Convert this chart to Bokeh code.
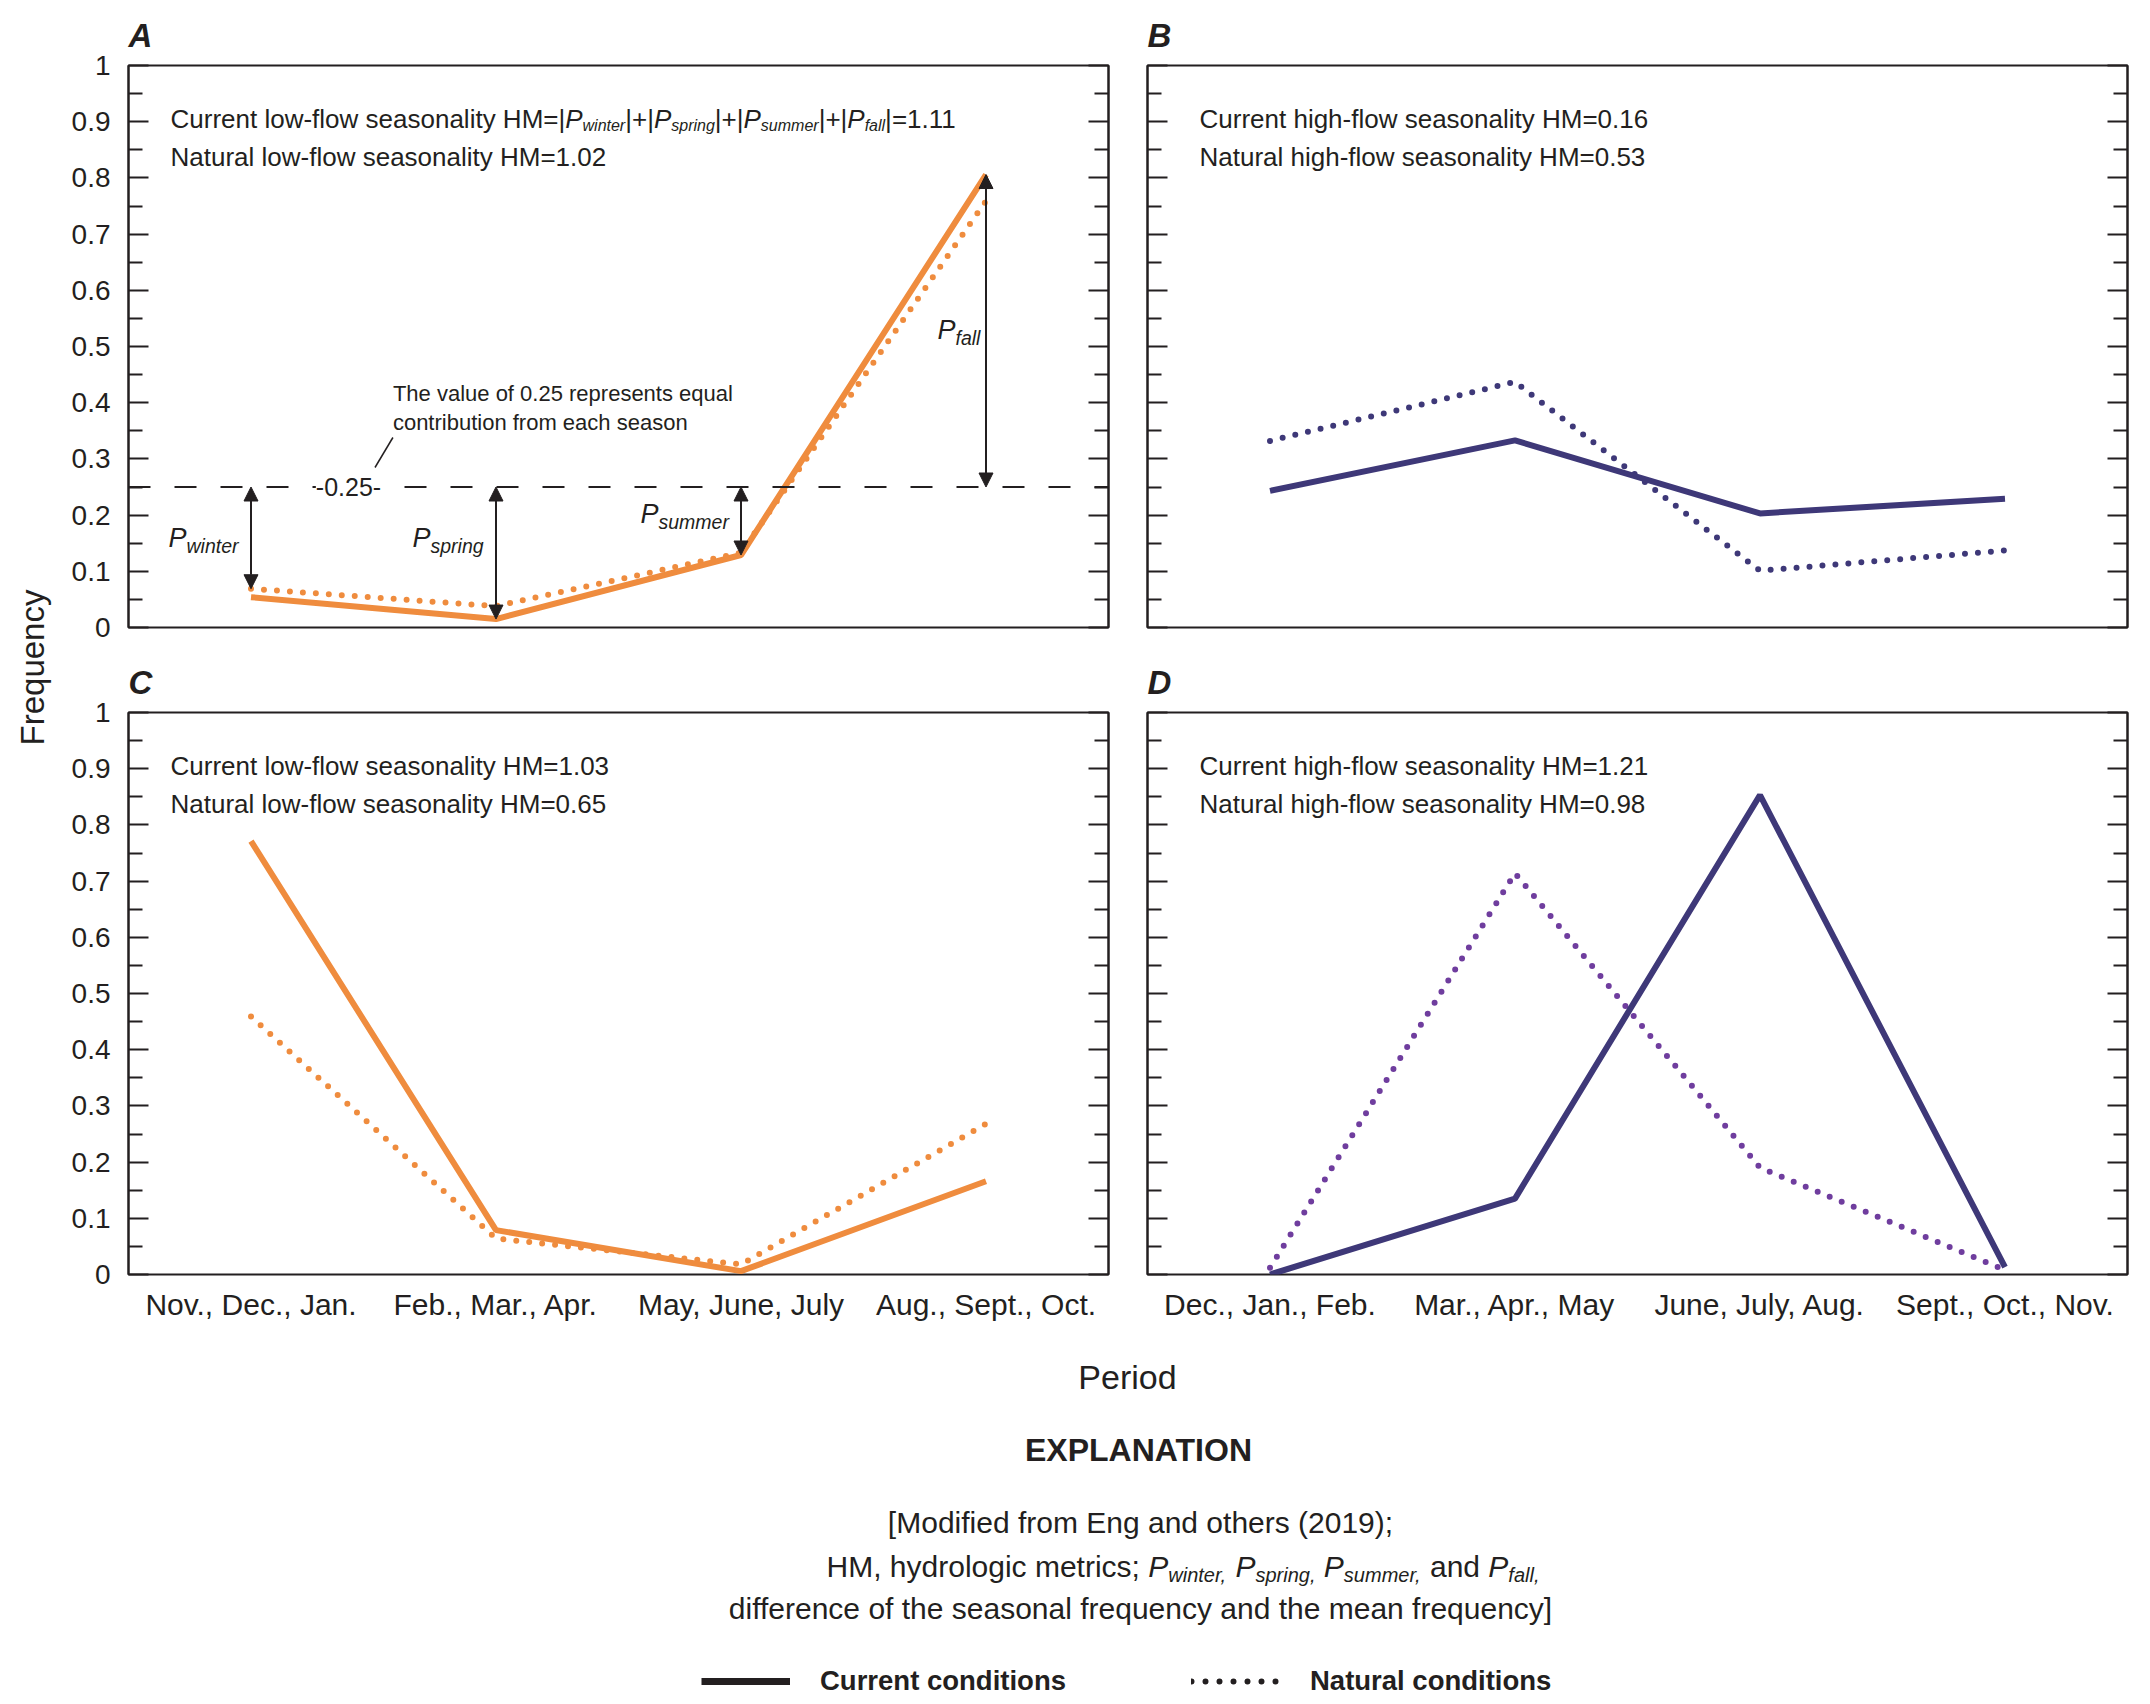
import math
from bokeh.plotting import figure
from bokeh.models import (Range1d, FactorRange, LinearAxis, CategoricalAxis, FixedTicker,
                          Label, Span, Arrow, NormalHead, ColumnDataSource, Legend, LegendItem, Title)
from bokeh.layouts import row, column
from bokeh.embed import file_html
from bokeh.resources import INLINE

# ---------------- data ----------------
low_flow_periods = ["Nov., Dec., Jan.", "Feb., Mar., Apr.", "May, June, July", "Aug., Sept., Oct."]
high_flow_periods = ["Dec., Jan., Feb.", "Mar., Apr., May", "June, July, Aug.", "Sept., Oct., Nov."]

a_current = [0.054, 0.015, 0.129, 0.806]
a_natural = [0.069, 0.038, 0.133, 0.759]
b_current = [0.243, 0.333, 0.203, 0.229]
b_natural = [0.332, 0.437, 0.101, 0.137]
c_current = [0.771, 0.079, 0.006, 0.166]
c_natural = [0.459, 0.064, 0.018, 0.268]
d_current = [0.000, 0.135, 0.853, 0.013]
d_natural = [0.012, 0.714, 0.190, 0.008]

hm_current = {"A": 1.11, "B": 0.16, "C": 1.03, "D": 1.21}
hm_natural = {"A": 1.02, "B": 0.53, "C": 0.65, "D": 0.98}
flow_kind = {"A": "low", "B": "high", "C": "low", "D": "high"}

equal_share = 0.25
y_ticks = [0, 0.1, 0.2, 0.3, 0.4, 0.5, 0.6, 0.7, 0.8, 0.9, 1]
y_tick_labels = ["0", "0.1", "0.2", "0.3", "0.4", "0.5", "0.6", "0.7", "0.8", "0.9", "1"]
y_minor_ticks = [0.05, 0.15, 0.25, 0.35, 0.45, 0.55, 0.65, 0.75, 0.85, 0.95]
seasons = ["winter", "spring", "summer", "fall"]
legend_labels = ["Current conditions", "Natural conditions"]

# ---------------- style ----------------
INK = "#231f20"
ORANGE = "#ef8c3e"
NAVY = "#3e3878"
PURPLE = "#6f3d9e"
FONT = "Liberation Sans"
FW, FH = 980, 562
MID = 0.3465  # em-box centre above the baseline

_W = {' ': 278, '!': 278, '(': 333, ')': 333, '+': 584, ',': 278, '-': 333, '.': 278, '/': 278,
      ':': 278, ';': 278, '=': 584, '[': 278, ']': 278, '|': 260,
      'A': 667, 'B': 667, 'C': 722, 'D': 722, 'E': 667, 'F': 611, 'G': 778, 'H': 722, 'I': 278,
      'J': 500, 'K': 667, 'L': 556, 'M': 833, 'N': 722, 'O': 778, 'P': 667, 'Q': 778, 'R': 722,
      'S': 667, 'T': 611, 'U': 722, 'V': 667, 'W': 944, 'X': 667, 'Y': 667, 'Z': 611,
      'a': 556, 'b': 556, 'c': 500, 'd': 556, 'e': 556, 'f': 278, 'g': 556, 'h': 556, 'i': 222,
      'j': 222, 'k': 500, 'l': 222, 'm': 833, 'n': 556, 'o': 556, 'p': 556, 'q': 556, 'r': 333,
      's': 500, 't': 278, 'u': 556, 'v': 500, 'w': 722, 'x': 500, 'y': 500, 'z': 500}


def tw(s, size):
    return sum(_W.get(ch, 556) for ch in s) / 1000.0 * size


def rich(p, fx, fy, x0, base, pieces):
    """pieces: (text, size, italic, dy) ; x0 / baseline in local px (y grows downward)."""
    cx = x0
    for txt, size, italic, dy in pieces:
        stripped = txt.lstrip(" ")
        cx += tw(txt[:len(txt) - len(stripped)], size)
        p.add_layout(Label(x=fx(cx), y=fy(base + dy - MID * size), text=stripped, text_font=FONT,
                           text_font_size=f"{size}px", text_font_style="italic" if italic else "normal",
                           text_color=INK, text_align="left", text_baseline="middle"))
        cx += tw(stripped, size)
    return cx


def rich_width(pieces):
    return sum(tw(t, s) for t, s, _, _ in pieces)


def make_panel(letter, periods, current, natural, cur_color, nat_color, tick_labels, x_labels, borders, text_x):
    ml, mr, mt, mb = borders
    p = figure(frame_width=FW, frame_height=FH, x_range=FactorRange(factors=periods), y_range=Range1d(0, 1),
               x_axis_location=None, y_axis_location=None, output_backend="svg", toolbar_location=None,
               min_border_left=ml, min_border_right=mr, min_border_top=mt, min_border_bottom=mb,
               outline_line_color=INK, outline_line_width=2, outline_line_alpha=1.0,
               background_fill_color="white", border_fill_color="white")
    p.grid.visible = False
    p.title = Title(text=letter, align="left", offset=0, standoff=24, text_font=FONT,
                    text_font_size="33px", text_font_style="bold italic", text_color=INK)
    fx = lambda px: px / (FW / 4.0)
    fy = lambda px: 1.0 - px / FH

    src = ColumnDataSource(dict(period=periods, current=current, natural=natural))
    p.line("period", "natural", source=src, line_color=nat_color, line_width=6,
           line_dash="0 13", line_cap="round")
    p.line("period", "current", source=src, line_color=cur_color, line_width=6)

    ticker = FixedTicker(ticks=y_ticks, minor_ticks=y_minor_ticks)
    for side in ("left", "right"):
        ax = LinearAxis(ticker=ticker, major_tick_in=20, major_tick_out=0, minor_tick_in=14, minor_tick_out=0,
                        major_tick_line_width=2, minor_tick_line_width=2, major_tick_line_color=INK,
                        minor_tick_line_color=INK, axis_line_color=INK, axis_line_width=2)
        if side == "left" and tick_labels:
            ax.major_label_overrides = dict(zip(y_ticks, y_tick_labels))
            ax.major_label_text_font = FONT
            ax.major_label_text_font_size = "28px"
            ax.major_label_text_color = INK
            ax.major_label_standoff = 18
        else:
            ax.major_label_text_font_size = "1px"
            ax.major_label_text_color = None
            ax.major_label_standoff = 0
        p.add_layout(ax, side)

    if x_labels:
        xa = CategoricalAxis(major_tick_in=0, major_tick_out=0, axis_line_color=None,
                             major_label_standoff=13, major_label_text_font=FONT,
                             major_label_text_font_size="30px", major_label_text_color=INK)
        p.add_layout(xa, "below")

    kind = flow_kind[letter]
    if letter != "A":
        rich(p, fx, fy, text_x, 62.5,
             [(f"Current {kind}-flow seasonality HM={hm_current[letter]:.2f}", 26, False, 0)])
    rich(p, fx, fy, text_x, 100.5,
         [(f"Natural {kind}-flow seasonality HM={hm_natural[letter]:.2f}", 26, False, 0)])
    return p, fx, fy


pa, fxa, fya = make_panel("A", low_flow_periods, a_current, a_natural, ORANGE, ORANGE, True, False, (68, 19, 65, 20), 42)
pb, _, _ = make_panel("B", high_flow_periods, b_current, b_natural, NAVY, NAVY, False, False, (20, 13, 65, 20), 52)
pc, _, _ = make_panel("C", low_flow_periods, c_current, c_natural, ORANGE, ORANGE, True, True, (68, 19, 65, 70), 42)
pd, _, _ = make_panel("D", high_flow_periods, d_current, d_natural, NAVY, PURPLE, False, True, (20, 13, 65, 70), 52)

# ---- panel A extras ----
head = [("Current low-flow seasonality HM=|", 26, False, 0)]
for i, s in enumerate(seasons):
    head += [("P", 26, True, 0), (s, 16, True, 3)]
    head += [("|+|", 26, False, 0)] if i < 3 else [(f"|={hm_current['A']:.2f}", 26, False, 0)]
rich(pa, fxa, fya, 42, 62.5, head)

pa.add_layout(Span(location=equal_share, dimension="width", line_color=INK, line_width=2, line_dash="22 24"))
pa.add_layout(Label(x=fxa(220), y=equal_share, text="-0.25-", text_font=FONT, text_font_size="25px",
                    text_color=INK, text_align="center", text_baseline="middle",
                    background_fill_color="white"))
rich(pa, fxa, fya, 264.4, 336, [("The value of 0.25 represents equal", 22, False, 0)])
rich(pa, fxa, fya, 264.4, 365, [("contribution from each season", 22, False, 0)])
pa.add_layout(Arrow(x_start=fxa(264.4), y_start=fya(372), x_end=fxa(246.5), y_end=fya(402),
                    end=None, line_color=INK, line_width=1.5))

arrow_targets = [a_natural[0], a_current[1], a_current[2], a_current[3]]
for i, tgt in enumerate(arrow_targets):
    pa.add_layout(Arrow(x_start=i + 0.5, y_start=equal_share, x_end=i + 0.5, y_end=tgt,
                        start=NormalHead(size=14, fill_color=INK, line_color=INK, line_width=1),
                        end=NormalHead(size=14, fill_color=INK, line_color=INK, line_width=1),
                        line_color=INK, line_width=2))

p_label_pos = [(40, 482), (284, 482), (512, 458), (809, 274)]
for s, (lx, lb) in zip(seasons, p_label_pos):
    rich(pa, fxa, fya, lx, lb, [("P", 27, True, 0), (s, 19.5, True, 5)])

# ---- left "Frequency" strip ----
FREQ_W, FREQ_H = 60, 1344
pf = figure(frame_width=FREQ_W, frame_height=FREQ_H, x_range=Range1d(0, FREQ_W), y_range=Range1d(FREQ_H, 0),
            x_axis_location=None, y_axis_location=None, output_backend="svg", toolbar_location=None,
            min_border=0, outline_line_color=None, background_fill_color="white", border_fill_color="white")
pf.grid.visible = False
pf.add_layout(Label(x=32, y=667, text="Frequency", angle=math.pi / 2, text_align="center",
                    text_baseline="middle", text_font=FONT, text_font_size="33px", text_color=INK))

# ---- bottom: axis title + explanation ----
BW, BH = 2140, 356
pe = figure(frame_width=BW, frame_height=BH, x_range=Range1d(0, BW), y_range=Range1d(BH, 0),
            x_axis_location=None, y_axis_location=None, output_backend="svg", toolbar_location=None,
            min_border=0, outline_line_color=None, background_fill_color="white", border_fill_color="white")
pe.grid.visible = False
ident = lambda v: v


def center_text(txt, x, base, size, style="normal"):
    pe.add_layout(Label(x=x, y=base - MID * size, text=txt, text_font=FONT, text_font_size=f"{size}px",
                        text_font_style=style, text_color=INK, text_align="center",
                        text_baseline="middle"))


center_text("Period", 1127, 44, 34)
center_text("EXPLANATION", 1138, 117, 32, "bold")
center_text("[Modified from Eng and others (2019);", 1140, 188.5, 30)
line2 = [("HM, hydrologic metrics; ", 30, False, 0)]
for i, s in enumerate(seasons):
    line2 += [("P", 30, True, 0), (s + ",", 20, True, 5)]
    if i < 2:
        line2 += [(" ", 30, False, 0)]
    elif i == 2:
        line2 += [(" and ", 30, False, 0)]
rich(pe, ident, ident, 1182.5 - rich_width(line2) / 2.0, 232, line2)
center_text("difference of the seasonal frequency and the mean frequency]", 1140, 274.5, 30)

nan = float("nan")
r_cur = pe.line(x=[nan, nan], y=[nan, nan], line_color=INK, line_width=7)
r_nat = pe.line(x=[nan, nan], y=[nan, nan], line_color=INK, line_width=6, line_dash="0 14", line_cap="round")
legend = Legend(items=[LegendItem(label=legend_labels[0], renderers=[r_cur]),
                       LegendItem(label=legend_labels[1], renderers=[r_nat])],
                orientation="horizontal", location=(701, 3), glyph_width=89, glyph_height=30,
                label_standoff=30, spacing=125, padding=0, margin=0, border_line_color=None,
                background_fill_alpha=0, label_text_font=FONT, label_text_font_style="bold",
                label_text_font_size="27.5px", label_text_color=INK)
pe.add_layout(legend)

layout = column(row(pf, column(row(pa, pb), row(pc, pd))), pe)
open("out.html", "w").write(file_html(layout, INLINE))
